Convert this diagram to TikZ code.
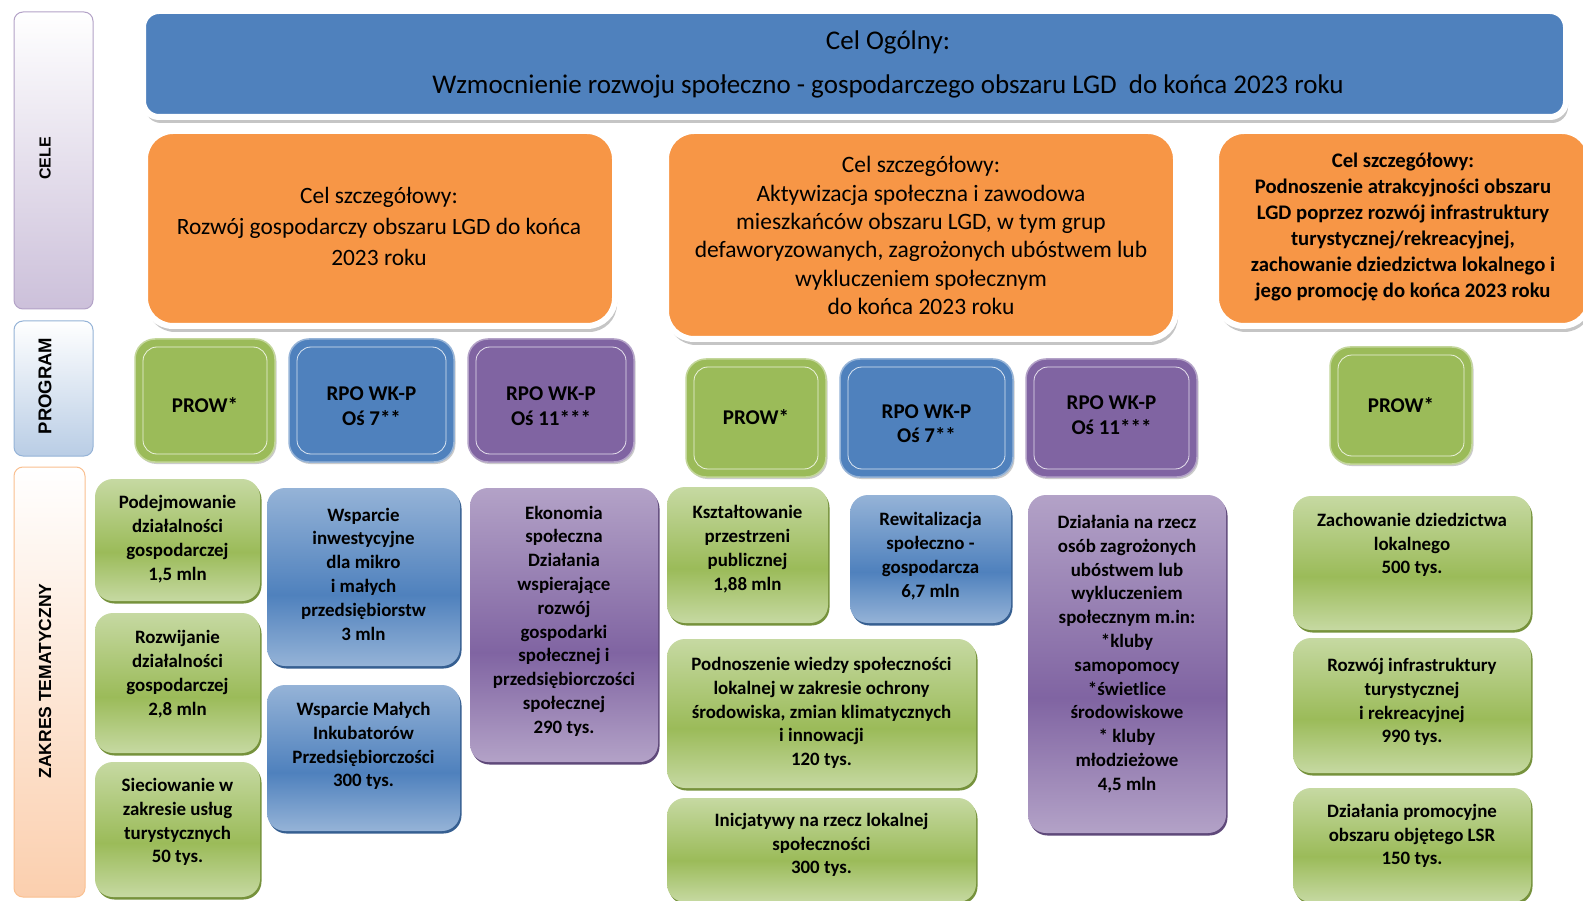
\documentclass[tikz,border=0pt]{standalone}
\usepackage{fontspec}
\setmainfont{Carlito}
\newfontfamily\sidefont{Liberation Sans}
\usetikzlibrary{shadows}
\definecolor{cblue}{HTML}{4F81BD}
\definecolor{corange}{HTML}{F79646}
\definecolor{cgreen}{HTML}{9BBB59}
\definecolor{cpurple}{HTML}{8064A2}
\definecolor{gl}{HTML}{C6D9A2}
\definecolor{bl}{HTML}{95B3D7}
\definecolor{pl}{HTML}{B3A2C7}
\definecolor{gdark}{HTML}{76923C}
\definecolor{bdark}{HTML}{365F91}
\definecolor{pdark}{HTML}{5F497A}
\definecolor{celebot}{HTML}{CCC0DA}
\definecolor{celeedge}{HTML}{B3A2C7}
\definecolor{progbot}{HTML}{B9CDE5}
\definecolor{progedge}{HTML}{95B3D7}
\definecolor{zakbot}{HTML}{FBCFAE}
\definecolor{zakedge}{HTML}{FAC090}
\pgfdeclareverticalshading{gshade}{100bp}{color(0bp)=(gl); color(25bp)=(gl); color(45bp)=(cgreen); color(75bp)=(gl); color(100bp)=(gl)}
\pgfdeclareverticalshading{bshade}{100bp}{color(0bp)=(bl); color(25bp)=(bl); color(45bp)=(cblue); color(75bp)=(bl); color(100bp)=(bl)}
\pgfdeclareverticalshading{pshade}{100bp}{color(0bp)=(pl); color(25bp)=(pl); color(45bp)=(cpurple); color(75bp)=(pl); color(100bp)=(pl)}
\tikzset{
  side/.style={rectangle, rounded corners=9pt, line width=1pt, inner sep=0pt},
  sidelab/.style={rotate=90, font=\sidefont\bfseries\fontsize{17.5}{19}\selectfont, inner sep=0pt},
  ringbox/.style={rectangle, draw=white, line width=6pt, inner sep=0pt,
    drop shadow={shadow xshift=2pt, shadow yshift=-6pt, fill=black!45, opacity=0.5}},
  toptxt/.style={align=center, inner sep=0pt, font=\fontsize{27}{43.6}\selectfont},
  celtxt/.style={align=center, inner sep=0pt, font=\fontsize{23.4}{31}\selectfont},
  prog/.style={rectangle, rounded corners=20pt, draw=#1!60!white, line width=1.5pt, fill=#1, inner sep=0pt,
    drop shadow={shadow xshift=1.5pt, shadow yshift=-2pt, fill=black!40, opacity=0.5}},
  progin/.style={rectangle, rounded corners=14pt, draw=white, line width=0.8pt, opacity=0.8, inner sep=0pt},
  progtxt/.style={align=center, inner sep=0pt, font=\bfseries\fontsize{21}{24.5}\selectfont},
  txt/.style={align=center, inner sep=0pt, font=\bfseries\fontsize{18.9}{23.8}\selectfont},
  bgreen/.style={rectangle, rounded corners=18pt, shading=gshade, inner sep=0pt,
    drop shadow={shadow xshift=1.5pt, shadow yshift=-2.5pt, fill=gdark, opacity=1}},
  bblue/.style={rectangle, rounded corners=18pt, shading=bshade, inner sep=0pt,
    drop shadow={shadow xshift=1.5pt, shadow yshift=-2.5pt, fill=bdark, opacity=1}},
  bpurple/.style={rectangle, rounded corners=18pt, shading=pshade, inner sep=0pt,
    drop shadow={shadow xshift=1.5pt, shadow yshift=-2.5pt, fill=pdark, opacity=1}},
}
% style, name, cx, cy, w, h, text-y, text
\newcommand\tbox[8]{%
  \node[#1, minimum width=#5pt, minimum height=#6pt] (#2) at (#3,#4) {};
  \node[txt] (#2t) at (#3,#7) {#8};}
% colour, name, cx, cy, w, h, text-y, text
\newcommand\pbox[8]{%
  \node[prog=#1, minimum width=#5pt, minimum height=#6pt] (#2) at (#3,#4) {};
  \node[progin, minimum width={#5pt-16pt}, minimum height={#6pt-16pt}] (#2i) at (#3,#4) {};
  \node[progtxt] (#2t) at (#3,#7) {#8};}
\begin{document}
\begin{tikzpicture}[x=1pt,y=-1pt]
\useasboundingbox (0,0) rectangle (1583,901);
\fill[white] (0,0) rectangle (1583,901);

% side panels
\node[side, top color=white, bottom color=celebot, draw=celeedge, minimum width=79pt, minimum height=297pt] (cele) at (53.5,160.5) {};
\node[sidelab, font=\sidefont\bfseries\fontsize{16}{18}\selectfont] (celet) at (45,158.5) {CELE};
\node[side, top color=white, bottom color=progbot, draw=progedge, minimum width=79pt, minimum height=135pt] (program) at (53.5,388.5) {};
\node[sidelab, font=\sidefont\bfseries\fontsize{18.5}{19}\selectfont] (programt) at (45,386) {PROGRAM};
\node[side, top color=white, bottom color=zakbot, draw=zakedge, minimum width=71pt, minimum height=430pt] (zakres) at (49.5,682) {};
\node[sidelab] (zakrest) at (45,681) {ZAKRES TEMATYCZNY};

% general goal
\node[ringbox, fill=cblue, rounded corners=16pt, minimum width=1423pt, minimum height=106pt] (ogol) at (854.5,64) {};
\node[toptxt] (ogolt) at (888,64.2) {Cel Ogólny:\\Wzmocnienie rozwoju społeczno - gospodarczego obszaru LGD\ \ do końca 2023 roku};

% specific goals
\node[ringbox, fill=corange, rounded corners=28pt, minimum width=470pt, minimum height=195pt] (cel1) at (380,228.5) {};
\node[celtxt] (cel1t) at (379,226) {Cel szczegółowy:\\Rozwój gospodarczy obszaru LGD do końca\\2023 roku};
\node[ringbox, fill=corange, rounded corners=28pt, minimum width=510pt, minimum height=208pt] (cel2) at (921,235) {};
\node[celtxt, font=\fontsize{23.5}{28.3}\selectfont] (cel2t) at (921,235.5) {Cel szczegółowy:\\Aktywizacja społeczna i zawodowa\\mieszkańców obszaru LGD, w tym grup\\defaworyzowanych, zagrożonych ubóstwem lub\\wykluczeniem społecznym\\do końca 2023 roku};
\node[ringbox, fill=corange, rounded corners=28pt, minimum width=374pt, minimum height=195pt] (cel3) at (1403,228.5) {};
\node[celtxt, font=\bfseries\fontsize{20.7}{26}\selectfont] (cel3t) at (1403,227) {Cel szczegółowy:\\Podnoszenie atrakcyjności obszaru\\LGD poprzez rozwój infrastruktury\\turystycznej/rekreacyjnej,\\zachowanie dziedzictwa lokalnego i\\jego promocję do końca 2023 roku};

% programmes
\pbox{cgreen}{p1}{205}{400.5}{140}{123}{405}{PROW*}
\pbox{cblue}{p2}{371.5}{400.5}{165}{123}{406}{RPO WK-P\\Oś 7**}
\pbox{cpurple}{p3}{551}{400.5}{166}{123}{406}{RPO WK-P\\Oś 11***}
\pbox{cgreen}{p4}{756}{418}{140}{118}{417}{PROW*}
\pbox{cblue}{p5}{926.5}{418}{173}{118}{423.5}{RPO WK-P\\Oś 7**}
\pbox{cpurple}{p6}{1111.5}{418}{171}{118}{415}{RPO WK-P\\Oś 11***}
\pbox{cgreen}{p7}{1401}{405.5}{142}{117}{405}{PROW*}

% thematic scope
\tbox{bgreen}{b1}{177.5}{540}{165}{122}{539}{Podejmowanie\\działalności\\gospodarczej\\1,5 mln}
\tbox{bgreen}{b2}{177.5}{683}{165}{140}{674}{Rozwijanie\\działalności\\gospodarczej\\2,8 mln}
\tbox{bgreen}{b3}{177.5}{829.5}{165}{135}{822}{Sieciowanie w\\zakresie usług\\turystycznych\\50 tys.}
\tbox{bblue}{b4}{363.5}{577}{193}{178}{574}{Wsparcie\\inwestycyjne\\dla mikro\\i małych\\przedsiębiorstw\\3 mln}
\tbox{bblue}{b5}{363.5}{758}{193}{146}{746}{Wsparcie Małych\\Inkubatorów\\Przedsiębiorczości\\300 tys.}
\tbox{bpurple}{b6}{564}{625}{188}{274}{621}{Ekonomia\\społeczna\\Działania\\wspierające\\rozwój\\gospodarki\\społecznej i\\przedsiębiorczości\\społecznej\\290 tys.}
\tbox{bgreen}{b7}{747.5}{555}{161}{136}{549}{Kształtowanie\\przestrzeni\\publicznej\\1,88 mln}
\tbox{bgreen}{b8}{821.5}{713.5}{309}{149}{713}{Podnoszenie wiedzy społeczności\\lokalnej w zakresie ochrony\\środowiska, zmian klimatycznych\\i innowacji\\120 tys.}
\tbox{bgreen}{b9}{821.5}{850}{309}{104}{845}{Inicjatywy na rzecz lokalnej\\społeczności\\300 tys.}
\tbox{bblue}{b10}{930.5}{559}{161}{128}{556}{Rewitalizacja\\społeczno -\\gospodarcza\\6,7 mln}
\tbox{bpurple}{b11}{1127}{664}{198}{338}{654}{Działania na rzecz\\osób zagrożonych\\ubóstwem lub\\wykluczeniem\\społecznym m.in:\\*kluby\\samopomocy\\*świetlice\\środowiskowe\\* kluby\\młodzieżowe\\4,5 mln}
\tbox{bgreen}{b12}{1412}{563}{238}{134}{545}{Zachowanie dziedzictwa\\lokalnego\\500 tys.}
\tbox{bgreen}{b13}{1412}{705.5}{238}{135}{702}{Rozwój infrastruktury\\turystycznej\\i rekreacyjnej\\990 tys.}
\tbox{bgreen}{b14}{1412}{845}{238}{114}{836}{Działania promocyjne\\obszaru objętego LSR\\150 tys.}
\end{tikzpicture}
\end{document}
